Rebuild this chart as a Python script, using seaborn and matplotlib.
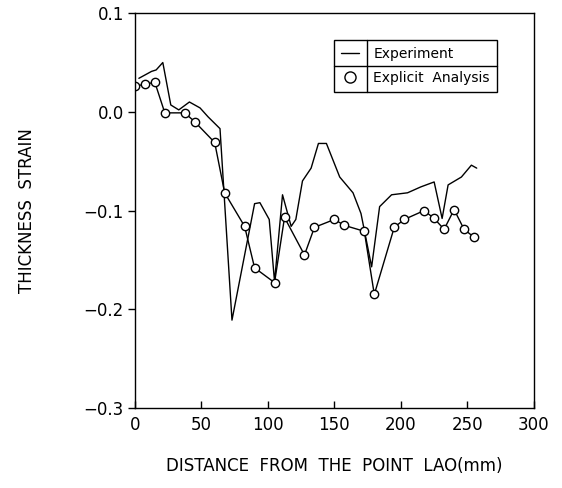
import pandas as pd
import numpy as np
import matplotlib
matplotlib.use('Agg')
import matplotlib.pyplot as plt
import seaborn as sns
from matplotlib.lines import Line2D

# Experiment curve
exp_x = [3, 12.5, 16, 21, 27, 33, 41, 49, 55, 64, 73, 90, 94, 101, 105, 111, 117.5, 121,
         126, 132.5, 138, 144, 154, 164, 170, 178, 184, 193, 205, 215, 225, 231, 235.5,
         245.5, 253, 257]
exp_y = [0.034, 0.041, 0.0425, 0.050, 0.007, 0.002, 0.010, 0.004, -0.005, -0.017, -0.211,
         -0.093, -0.092, -0.109, -0.172, -0.084, -0.116, -0.109, -0.070, -0.057, -0.032,
         -0.032, -0.066, -0.082, -0.103, -0.157, -0.096, -0.084, -0.082, -0.076, -0.071,
         -0.108, -0.074, -0.066, -0.054, -0.057]

# Explicit analysis points
ana_x = [0, 7.5, 15, 22.5, 37.5, 45, 60, 67.5, 82.5, 90, 105, 112.5, 127.5, 135, 150,
         157.5, 172.5, 180, 195, 202.5, 217.5, 225, 232.5, 240, 247.5, 255]
ana_y = [0.026, 0.028, 0.030, -0.001, -0.001, -0.010, -0.031, -0.082, -0.116, -0.158,
         -0.173, -0.107, -0.145, -0.117, -0.109, -0.115, -0.121, -0.185, -0.117, -0.109,
         -0.100, -0.108, -0.119, -0.099, -0.119, -0.127]

x_ticks = [0, 50, 100, 150, 200, 250, 300]
y_ticks = [-0.3, -0.2, -0.1, 0.0, 0.1]
y_tick_labels = ['\u22120.3', '\u22120.2', '\u22120.1', '0.0', '0.1']
legend_labels = ['Experiment', 'Explicit  Analysis']

experiment = pd.DataFrame({'x': exp_x, 'y': exp_y})
analysis = pd.DataFrame({'x': ana_x, 'y': ana_y})

sns.set_style('white')
plt.rcParams['font.family'] = ['DejaVu Sans']
plt.rcParams['text.color'] = 'black'
plt.rcParams['axes.labelcolor'] = 'black'

fig = plt.figure(figsize=(5.62, 4.88), dpi=100)
ax = fig.add_axes([0.240, 0.164, 0.710, 0.809])

sns.lineplot(data=experiment, x='x', y='y', sort=False, estimator=None,
             color='black', linewidth=1.0, ax=ax)
sns.lineplot(data=analysis, x='x', y='y', sort=False, estimator=None,
             color='black', linewidth=1.0, marker='o', markersize=6,
             markerfacecolor='white', markeredgecolor='black', markeredgewidth=1.0, ax=ax)

ax.set_xlim(0, 300)
ax.set_ylim(-0.3, 0.1)
ax.set_xticks(x_ticks)
ax.set_yticks(y_ticks)
ax.set_yticklabels(y_tick_labels)
ax.tick_params(axis='x', bottom=True, direction='in', length=5, width=1, labelsize=12,
               pad=6, colors='black')
ax.tick_params(axis='y', left=True, direction='out', length=5, width=1, labelsize=12,
               pad=3, colors='black')
for s in ax.spines.values():
    s.set_color('black')
    s.set_linewidth(1.0)
    s.set_visible(True)

ax.set_xlabel('DISTANCE  FROM  THE  POINT  LAO(mm)', fontsize=12, labelpad=16, color='black')
ax.set_ylabel('THICKNESS  STRAIN', fontsize=12, labelpad=34, color='black')

# Legend drawn as a small table
handles = [Line2D([], [], color='black', linewidth=1.0),
           Line2D([], [], color='black', linestyle='none', marker='o', markersize=8,
                  markerfacecolor='white', markeredgewidth=1.0)]
leg = ax.legend(handles, legend_labels, loc='upper left', bbox_to_anchor=(0.50, 0.933),
                frameon=True, fancybox=False, edgecolor='black', framealpha=1,
                fontsize=10, handlelength=1.3, handletextpad=1.0, borderpad=0.5,
                labelspacing=0.75, borderaxespad=0)
leg.get_frame().set_linewidth(1.0)

fig.canvas.draw()
inv = ax.transAxes.inverted()
fb = leg.get_window_extent()
texts = leg.get_texts()
t0 = texts[0].get_window_extent()
t1 = texts[1].get_window_extent()
(fx0, fy0), (fx1, fy1) = inv.transform([[fb.x0, fb.y0], [fb.x1, fb.y1]])
dx = inv.transform([[t0.x0 - 6, 0]])[0][0]
my = inv.transform([[0, (t0.y0 + t1.y1) / 2]])[0][1]
ax.plot([dx, dx], [fy0, fy1], transform=ax.transAxes, color='black', linewidth=1.0, zorder=10)
ax.plot([fx0, fx1], [my, my], transform=ax.transAxes, color='black', linewidth=1.0, zorder=10)

fig.savefig('out.png', dpi=100)
